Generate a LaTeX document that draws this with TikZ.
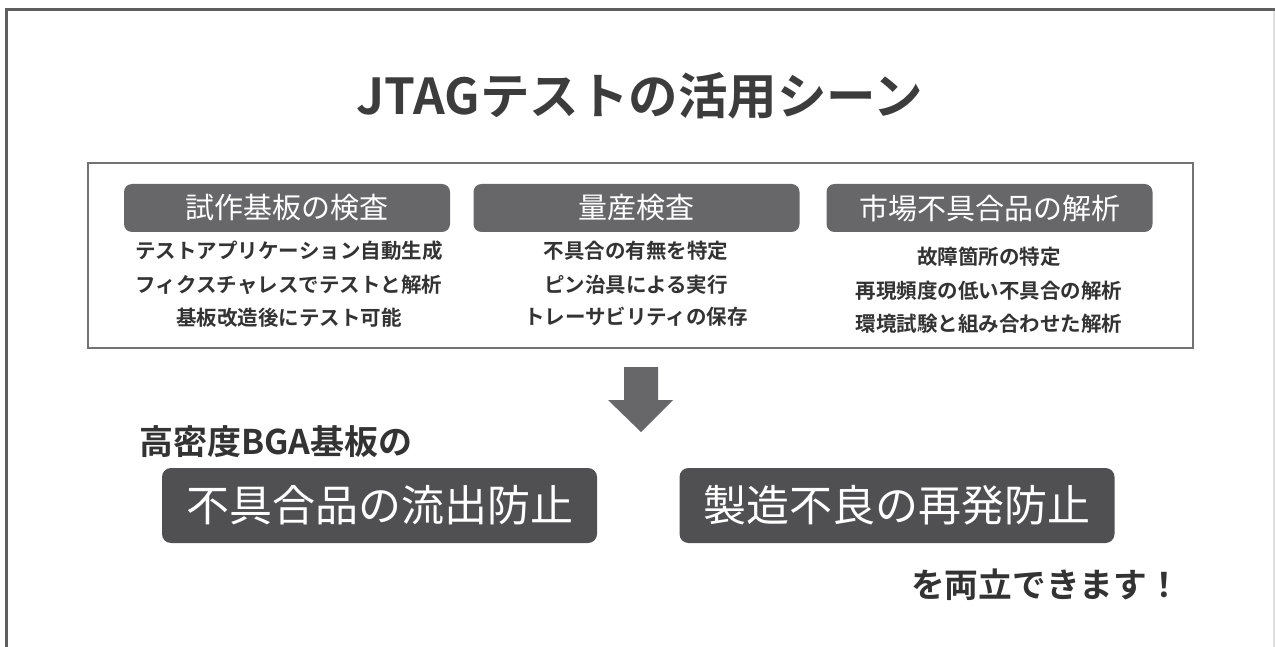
\documentclass[tikz,border=0pt]{standalone}
\usepackage{fontspec}
\newfontfamily\jp{Noto Sans CJK JP}[BoldFont={Noto Sans CJK JP Bold}]
\usetikzlibrary{positioning}
\definecolor{framegray}{HTML}{5F5F5F}
\definecolor{hdrgray}{HTML}{67676A}
\definecolor{boxgray}{HTML}{505052}
\definecolor{txtgray}{HTML}{333333}
\definecolor{titlegray}{HTML}{3C3C3C}
\tikzset{
  hdr/.style={fill=hdrgray, rounded corners=8pt, minimum width=326pt, minimum height=48pt,
    inner sep=0pt, text=white, font=\jp\fontsize{29}{34}\selectfont},
  bigbox/.style={fill=boxgray, rounded corners=9pt, minimum width=435pt, minimum height=75pt,
    inner sep=0pt, text=white, font=\jp\fontsize{43}{50}\selectfont},
  item/.style={text=txtgray, inner sep=0pt, font=\jp\bfseries\fontsize{20.5}{24}\selectfont},
}
\begin{document}
\begin{tikzpicture}[x=1pt,y=-1pt]
\useasboundingbox (0,0) rectangle (1275,647);
\fill[white] (0,0) rectangle (1275,647);
% outer frame
\draw[framegray, line width=3pt] (6.5,650) -- (6.5,10) -- (1276,10);
\draw[gray!25, line width=1.5pt] (1274,11) -- (1274,650);
% title
\node[text=titlegray, inner sep=0pt, font=\jp\bfseries\fontsize{49.5}{56}\selectfont] (title) at (640,96) {JTAGテストの活用シーン};
% inner box
\draw[gray!110, line width=1.1pt] (88,163) rectangle (1193,348);
% headers
\node[hdr] (h1) at (287,208) {試作基板の検査};
\node[hdr] (h2) at (636.5,208) {量産検査};
\node[hdr] (h3) at (989.5,208) {市場不具合品の解析};
% items
\node[item] (a1) at (289,251) {テストアプリケーション自動生成};
\node[item] (a2) at (289,285) {フィクスチャレスでテストと解析};
\node[item] (a3) at (289,318) {基板改造後にテスト可能};
\node[item] (b1) at (636,251) {不具合の有無を特定};
\node[item] (b2) at (636,285) {ピン治具による実行};
\node[item] (b3) at (636,317) {トレーサビリティの保存};
\node[item] (c1) at (989,257) {故障箇所の特定};
\node[item] (c2) at (989,291) {再現頻度の低い不具合の解析};
\node[item] (c3) at (989,324) {環境試験と組み合わせた解析};
% arrow
\fill[hdrgray] (624,367) -- (658,367) -- (658,400) -- (673,400) -- (641,432) -- (608,400) -- (624,400) -- cycle;
% bottom
\node[text=txtgray, inner sep=0pt, anchor=west, font=\jp\bfseries\fontsize{34}{40}\selectfont] (lead) at (139,442) {高密度BGA基板の};
\node[bigbox] (p1) at (379.5,505.5) {不具合品の流出防止};
\node[bigbox] (p2) at (897,505.5) {製造不良の再発防止};
\node[text=txtgray, inner sep=0pt, anchor=west, font=\jp\bfseries\fontsize{33.7}{38}\selectfont] (tail) at (911,585) {を両立できます！};
\end{tikzpicture}
\end{document}
